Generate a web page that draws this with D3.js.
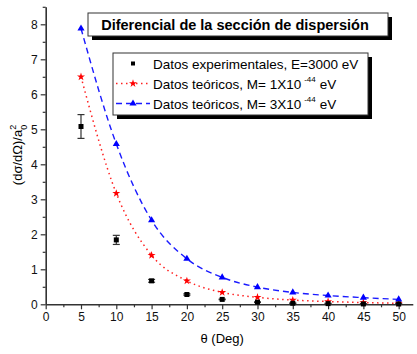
<!DOCTYPE html>
<html>
<head>
<meta charset="utf-8">
<script src="https://cdn.jsdelivr.net/npm/d3@7"></script>
<style>
  body { margin: 0; background: #fff; }
  text { font-family: "Liberation Sans", Arial, sans-serif; }
</style>
</head>
<body>
<div id="chart"></div>
<script>
var angles = [5, 10, 15, 20, 25, 30, 35, 40, 45, 50];
var experimental = [5.08, 1.84, 0.67, 0.28, 0.14, 0.06, 0.03, 0.02, 0.01, 0.01];
var experimental_err = [0.34, 0.13, 0.04, 0.02, 0.01, 0.01, 0.01, 0.01, 0.01, 0.01];
var theory_m1 = [6.5, 3.17, 1.4, 0.67, 0.34, 0.2, 0.12, 0.08, 0.05, 0.03];
var theory_m3 = [7.88, 4.58, 2.4, 1.3, 0.77, 0.49, 0.34, 0.25, 0.19, 0.14];
var x_ticks = [0, 5, 10, 15, 20, 25, 30, 35, 40, 45, 50];
var y_ticks = [0, 1, 2, 3, 4, 5, 6, 7, 8];

var width = 417, height = 354;

var svg = d3.select("#chart").append("svg")
    .attr("width", width)
    .attr("height", height);

var x = d3.scaleLinear().domain([0, 52]).range([45.7, 412.8]);
var y = d3.scaleLinear().domain([0, 8.5]).range([304.3, 6.8]);

// minor ticks
var xMinor = d3.range(0, 52.1, 2.5).filter(function(d){ return d % 5 !== 0; });
var yMinor = d3.range(0.5, 8.6, 1);

var axisColor = "#333";

svg.append("g")
    .attr("transform", "translate(0," + y(0) + ")")
    .call(d3.axisBottom(x).tickValues(x_ticks).tickSize(5).tickPadding(3).tickSizeOuter(0));
svg.append("g")
    .attr("transform", "translate(0," + y(0) + ")")
    .call(d3.axisBottom(x).tickValues(xMinor).tickSize(3).tickFormat("").tickSizeOuter(0))
    .select(".domain").remove();

svg.append("g")
    .attr("transform", "translate(" + x(0) + ",0)")
    .call(d3.axisLeft(y).tickValues(y_ticks).tickSize(5).tickPadding(3).tickSizeOuter(0));
svg.append("g")
    .attr("transform", "translate(" + x(0) + ",0)")
    .call(d3.axisLeft(y).tickValues(yMinor).tickSize(3).tickFormat("").tickSizeOuter(0))
    .select(".domain").remove();

svg.selectAll(".domain").attr("stroke", axisColor).attr("stroke-width", 1.6);
svg.selectAll(".tick line").attr("stroke", axisColor).attr("stroke-width", 1.2);
svg.selectAll(".tick text")
    .attr("fill", "#111")
    .style("font-size", "12px")
    .style("font-family", "Liberation Sans, Arial, sans-serif");

// axis labels
svg.append("text")
    .attr("x", x(25))
    .attr("y", 343)
    .attr("text-anchor", "middle")
    .style("font-size", "13px")
    .text("\u03b8 (Deg)");

var ylab = svg.append("text")
    .attr("transform", "translate(22,155) rotate(-90)")
    .attr("text-anchor", "middle")
    .style("font-size", "13px");
ylab.append("tspan").text("(d\u03c3/d\u03a9)/a");
ylab.append("tspan").attr("dy", -6).style("font-size", "9px").text("2");
ylab.append("tspan").attr("dx", -5).attr("dy", 11).style("font-size", "9px").text("0");

// smooth curves
var line = d3.line()
    .x(function(d){ return x(d[0]); })
    .y(function(d){ return y(d[1]); })
    .curve(d3.curveMonotoneX);

var m1pts = angles.map(function(a, i){ return [a, theory_m1[i]]; });
var m3pts = angles.map(function(a, i){ return [a, theory_m3[i]]; });
var expts = angles.map(function(a, i){ return [a, experimental[i], experimental_err[i]]; });

svg.append("path")
    .datum(m1pts)
    .attr("d", line)
    .attr("fill", "none")
    .attr("stroke", "#ff2020")
    .attr("stroke-width", 1.5)
    .attr("stroke-dasharray", "1.5,3.5");

svg.append("path")
    .datum(m3pts)
    .attr("d", line)
    .attr("fill", "none")
    .attr("stroke", "#1a1aff")
    .attr("stroke-width", 1.4)
    .attr("stroke-dasharray", "6,4");

var star = d3.symbol().type(d3.symbolStar).size(20);
var tri = d3.symbol().type(d3.symbolTriangle).size(22);

svg.selectAll(".m1")
    .data(m1pts)
    .enter()
    .append("path")
    .attr("class", "m1")
    .attr("transform", function(d){ return "translate(" + x(d[0]) + "," + y(d[1]) + ")"; })
    .attr("d", star)
    .attr("fill", "#ff0000");

svg.selectAll(".m3")
    .data(m3pts)
    .enter()
    .append("path")
    .attr("class", "m3")
    .attr("transform", function(d){ return "translate(" + x(d[0]) + "," + y(d[1]) + ")"; })
    .attr("d", tri)
    .attr("fill", "#0000ff");

// experimental points with error bars
var eb = svg.selectAll(".exp")
    .data(expts)
    .enter()
    .append("g")
    .attr("class", "exp");

eb.append("line")
    .attr("x1", function(d){ return x(d[0]); })
    .attr("x2", function(d){ return x(d[0]); })
    .attr("y1", function(d){ return y(d[1] - d[2]); })
    .attr("y2", function(d){ return y(d[1] + d[2]); })
    .attr("stroke", "#333")
    .attr("stroke-width", 1.2);
eb.selectAll(".cap")
    .data(function(d){ return [[d[0], d[1] - d[2]], [d[0], d[1] + d[2]]]; })
    .enter()
    .append("line")
    .attr("x1", function(d){ return x(d[0]) - 3.5; })
    .attr("x2", function(d){ return x(d[0]) + 3.5; })
    .attr("y1", function(d){ return y(d[1]); })
    .attr("y2", function(d){ return y(d[1]); })
    .attr("stroke", "#333")
    .attr("stroke-width", 1.2);
eb.append("rect")
    .attr("x", function(d){ return x(d[0]) - 2.5; })
    .attr("y", function(d){ return y(d[1]) - 2.5; })
    .attr("width", 5)
    .attr("height", 5)
    .attr("fill", "#000");

// title box
svg.append("rect").attr("x", 92).attr("y", 17).attr("width", 300).attr("height", 23).attr("fill", "#000");
svg.append("rect").attr("x", 88).attr("y", 13).attr("width", 300).attr("height", 23)
    .attr("fill", "#fff").attr("stroke", "#333").attr("stroke-width", 1);
svg.append("text")
    .attr("x", 235)
    .attr("y", 30)
    .attr("text-anchor", "middle")
    .style("font-size", "14.5px")
    .style("font-weight", "bold")
    .text("Diferencial de la secci\u00f3n de dispersi\u00f3n");

// legend box
svg.append("rect").attr("x", 117).attr("y", 57).attr("width", 255).attr("height", 62).attr("fill", "#000");
svg.append("rect").attr("x", 113).attr("y", 53).attr("width", 255).attr("height", 62)
    .attr("fill", "#fff").attr("stroke", "#333").attr("stroke-width", 1);

var legend_labels = ["Datos experimentales, E=3000 eV", "Datos te\u00f3ricos, M= 1X10", "Datos te\u00f3ricos, M= 3X10"];
var lg = svg.selectAll(".lg")
    .data(legend_labels)
    .enter()
    .append("g")
    .attr("class", "lg")
    .attr("transform", function(d, i){ return "translate(0," + (63.5 + i * 20) + ")"; });

var lt = lg.append("text")
    .attr("x", 153)
    .attr("y", 5)
    .style("font-size", "13.5px");
lt.append("tspan").text(function(d){ return d; });
lt.filter(function(d, i){ return i > 0; })
    .append("tspan").attr("dx", 3).attr("dy", -7).style("font-size", "8px").text("-44");
lt.filter(function(d, i){ return i > 0; })
    .append("tspan").attr("dx", 4).attr("dy", 7).text("eV");

lg.filter(function(d, i){ return i === 0; })
    .append("rect").attr("x", 131).attr("y", -2).attr("width", 4).attr("height", 4).attr("fill", "#000");
lg.filter(function(d, i){ return i === 1; })
    .append("line").attr("x1", 116).attr("x2", 150).attr("y1", 0).attr("y2", 0)
    .attr("stroke", "#ff2020").attr("stroke-width", 1.5).attr("stroke-dasharray", "1.5,3.5");
lg.filter(function(d, i){ return i === 1; })
    .append("path").attr("transform", "translate(133,0)").attr("d", star).attr("fill", "#ff0000");
lg.filter(function(d, i){ return i === 2; })
    .append("line").attr("x1", 116).attr("x2", 150).attr("y1", 0).attr("y2", 0)
    .attr("stroke", "#1a1aff").attr("stroke-width", 1.4).attr("stroke-dasharray", "6,4");
lg.filter(function(d, i){ return i === 2; })
    .append("path").attr("transform", "translate(133,0)").attr("d", tri).attr("fill", "#0000ff");
</script>
</body>
</html>
